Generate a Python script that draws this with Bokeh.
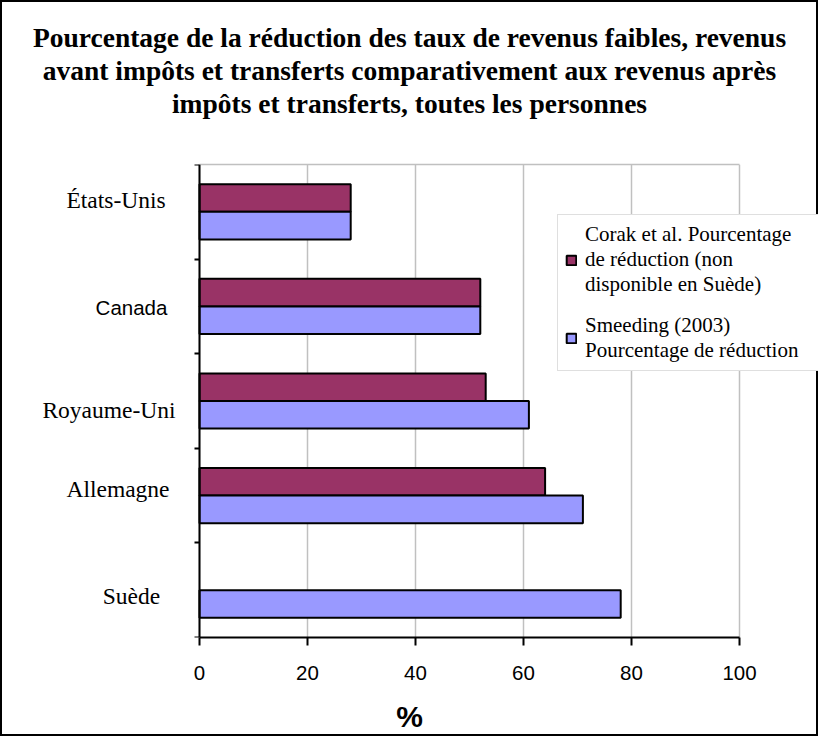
from bokeh.plotting import figure
from bokeh.models import (ColumnDataSource, FactorRange, Range1d, LinearAxis, FixedTicker,
                          Legend, LegendItem, LabelSet, Title)
from bokeh.transform import dodge
from bokeh.embed import file_html
from bokeh.resources import INLINE

# ---------------- data ----------------
categories = ["États-Unis", "Canada", "Royaume-Uni", "Allemagne", "Suède"]
corak = [28, 52, 53, 64, float("nan")]
smeeding = [28, 52, 61, 71, 78]
x_ticks = [0, 20, 40, 60, 80, 100]
title_lines = [
    "Pourcentage de la réduction des taux de revenus faibles, revenus",
    "avant impôts et transferts comparativement aux revenus après",
    "impôts et transferts, toutes les personnes",
]
x_label = "%"
legend_labels = [
    "Corak et al. Pourcentage\nde réduction (non\ndisponible en Suède)",
    "Smeeding (2003)\nPourcentage de réduction",
]

# ---------------- styles / layout ----------------
PURPLE = "#993366"
BLUE = "#9999FF"
GRID = "#C0C0C0"
SERIF = "Liberation Serif"
SANS = "Liberation Sans"
label_fonts = [SERIF, SANS, SERIF, SERIF, SERIF]
label_sizes = ["23.5px", "20.5px", "23.5px", "23.5px", "23.5px"]
label_dx = [-83.5, -68, -90.5, -81.5, -68]
label_dy = [11.4, -1.3, -9, 7, -5.4]

W, H = 818, 736
AXIS_LEFT_PX, AXIS_RIGHT_PX = 199, 739      # pixel position of 0 and 100 inside the canvas
px_per_unit = (AXIS_RIGHT_PX - AXIS_LEFT_PX) / (x_ticks[-1] - x_ticks[0])
x_start = x_ticks[0] - AXIS_LEFT_PX / px_per_unit
x_end = x_ticks[-1] + (W - AXIS_RIGHT_PX) / px_per_unit

src = ColumnDataSource(dict(cat=categories, corak=corak, smeeding=smeeding))

p = figure(width=W, height=H,
           y_range=FactorRange(factors=categories[::-1]),
           x_range=Range1d(x_start, x_end),
           output_backend="svg", toolbar_location=None,
           x_axis_location="below", y_axis_location=None,
           min_border_left=0, min_border_right=0,
           min_border_top=164, min_border_bottom=99)
p.styles = {"outline": "2px solid black", "outline-offset": "-2px"}
p.background_fill_color = None
p.border_fill_color = None
p.outline_line_color = None

bar_h = 0.292
r1 = p.hbar(y=dodge("cat", bar_h / 2, range=p.y_range), left=0, right="corak", height=bar_h,
            fill_color=PURPLE, line_color="black", line_width=2, source=src)
r2 = p.hbar(y=dodge("cat", -bar_h / 2, range=p.y_range), left=0, right="smeeding", height=bar_h,
            fill_color=BLUE, line_color="black", line_width=2, source=src)

# x axis
xa = p.xaxis[0]
xa.ticker = FixedTicker(ticks=x_ticks)
xa.bounds = (x_ticks[0], x_ticks[-1])
xa.axis_line_color = "black"
xa.axis_line_width = 2
xa.major_tick_line_color = "black"
xa.major_tick_line_width = 2
xa.major_tick_out = 8
xa.major_tick_in = 0
xa.minor_tick_line_color = None
xa.major_label_text_font = SANS
xa.major_label_text_font_size = "20.5px"
xa.major_label_text_color = "black"
xa.major_label_standoff = 20
xa.axis_label = x_label
xa.axis_label_text_font = SANS
xa.axis_label_text_font_style = "bold"
xa.axis_label_text_font_size = "30px"
xa.axis_label_text_color = "black"
xa.axis_label_standoff = 17

p.xgrid.ticker = xa.ticker
p.xgrid.grid_line_color = GRID
p.xgrid.grid_line_width = 1.5
for g in p.ygrid:
    g.visible = False

# top edge of the plot area (grey line from 0 to 100); its invisible tick keeps the title clear
top_axis = LinearAxis(ticker=FixedTicker(ticks=[x_ticks[0]]), bounds=(x_ticks[0], x_ticks[-1]),
                      axis_line_color=GRID, axis_line_width=1.5,
                      major_tick_line_color=None, minor_tick_line_color=None,
                      major_tick_out=46, major_tick_in=0,
                      major_label_overrides={x_ticks[0]: ""},
                      major_label_standoff=0, major_label_text_font_size="1px")
p.add_layout(top_axis, "above")

# y axis at x = 0 with ticks at category boundaries
bounds = list(range(len(categories) + 1))
ya = LinearAxis(ticker=FixedTicker(ticks=bounds), fixed_location=x_ticks[0],
                major_label_overrides={b: "" for b in bounds},
                major_label_text_font_size="1px", major_label_standoff=0,
                axis_line_color="black", axis_line_width=2,
                major_tick_line_color="black", major_tick_line_width=2,
                major_tick_out=5, major_tick_in=0, minor_tick_line_color=None)
p.add_layout(ya, "left")

# category labels
lab_src = ColumnDataSource(dict(y=categories, x=[x_ticks[0]] * len(categories),
                                dx=label_dx, dy=label_dy, font=label_fonts, size=label_sizes))
labels = LabelSet(x="x", y="y", text="y", x_offset="dx", y_offset="dy", source=lab_src,
                  text_font="font", text_font_size="size", text_color="black",
                  text_align="center", text_baseline="middle")
p.add_layout(labels)

# title: one Title per line, the line nearest the plot added first
for t in reversed(title_lines):
    p.add_layout(Title(text=t, align="center", text_font=SERIF, text_font_style="bold",
                       text_font_size="27.5px", text_color="black",
                       text_line_height=1.1, standoff=0), "above")

legend = Legend(items=[LegendItem(label=legend_labels[0], renderers=[r1]),
                       LegendItem(label=legend_labels[1], renderers=[r2])],
                location=(557, 266))
legend.border_line_color = GRID
legend.border_line_width = 1.5
legend.background_fill_color = "white"
legend.background_fill_alpha = 1
legend.padding = 7
legend.margin = 0
legend.spacing = 16
legend.glyph_width = 12
legend.glyph_height = 12
legend.label_standoff = 8
legend.label_width = 260
legend.label_text_font = SERIF
legend.label_text_font_size = "21px"
legend.label_text_line_height = 1.15
legend.label_text_color = "black"
p.add_layout(legend, "center")

open("out.html", "w").write(file_html(p, INLINE))
